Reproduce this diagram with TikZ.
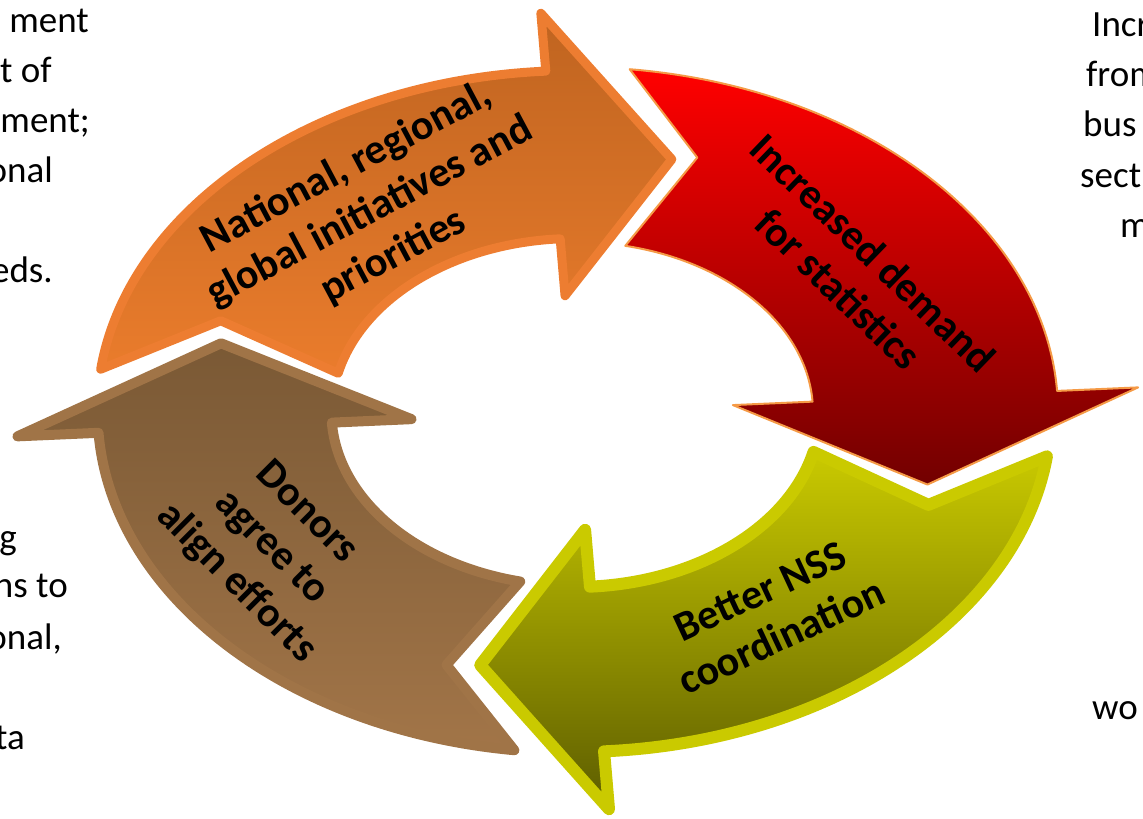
\documentclass[tikz,border=0pt]{standalone}
\usepackage{fontspec}
\setmainfont{Carlito}
\definecolor{orBorder}{HTML}{ED7D31}
\definecolor{orTop}{HTML}{BF6420}
\definecolor{orBot}{HTML}{EA7C2C}
\definecolor{rdBorder}{HTML}{F59A46}
\definecolor{rdTop}{HTML}{FF0000}
\definecolor{rdBot}{HTML}{720000}
\definecolor{ylBorder}{HTML}{CACA00}
\definecolor{ylTop}{HTML}{CACA00}
\definecolor{ylBot}{HTML}{5C5C00}
\definecolor{brBorder}{HTML}{A07447}
\definecolor{brTop}{HTML}{7A5935}
\definecolor{brBot}{HTML}{A27548}
\tikzset{
  arrowlabel/.style={font=\bfseries\fontsize{42}{50}\selectfont, align=center, text=black, inner sep=0pt},
  sidetext/.style={font=\fontsize{37}{50}\selectfont, inner sep=0pt, text=black},
  ringshape/.style={line join=round},
}
\newcommand{\ringarrow}[3]{%
  \pgfmathsetmacro\myPrev{#1+90}%
  \pgfmathsetmacro\myAo{\myPrev-9.8-0.2*#2}%
  \pgfmathsetmacro\myAi{\myPrev-15.5-0.2*#2}%
  \pgfmathsetmacro\myAn{\myPrev-22.2-0.25*#2}%
  \pgfmathsetmacro\myAt{#1-19.8+0.22*#2}%
  \pgfmathsetmacro\myRo{346-#2}%
  \pgfmathsetmacro\myRi{169+#2}%
  \pgfmathsetmacro\myRbo{404-#2}%
  \pgfmathsetmacro\myRbi{112+#2}%
  \draw[ringshape,#3] (\myAo:\myRo pt) arc[start angle=\myAo, end angle=#1, radius=\myRo pt]
    -- (#1:\myRbo pt) -- (\myAt:262pt) -- (#1:\myRbi pt) -- (#1:\myRi pt)
    arc[start angle=#1, end angle=\myAi, radius=\myRi pt] -- (\myAn:269pt) -- cycle;
}
\begin{document}
\begin{tikzpicture}[x=1pt,y=1pt]
\useasboundingbox (0,0) rectangle (1143,819);
\begin{scope}[shift={(575,407)}, xscale=1.4]
  \ringarrow{93.5}{4.5}{draw=orBorder, line width=9pt, top color=orTop, bottom color=orBot}
  \ringarrow{3.5}{1}{draw=rdBorder, line width=2pt, top color=rdTop, bottom color=rdBot}
  \ringarrow{-86.5}{6}{draw=ylBorder, line width=12pt, top color=ylTop, bottom color=ylBot}
  \ringarrow{-176.5}{5}{draw=brBorder, line width=10pt, top color=brTop, bottom color=brBot}
\end{scope}
\node[arrowlabel, rotate=28] (tNat) at (370,607) {National, regional,\\global initiatives and\\priorities};
\node[arrowlabel, rotate=-44] (tDem) at (856,548) {Increased demand\\for statistics};
\node[arrowlabel, rotate=25] (tNSS) at (771,205) {Better NSS\\coordination};
\node[arrowlabel, rotate=-45] (tDon) at (271,271) {Donors\\agree to\\align efforts};
\node[sidetext, anchor=base east] (l1) at (89,786) {ment};
\node[sidetext, anchor=base east] (l2) at (52,736) {t of};
\node[sidetext, anchor=base east] (l3) at (90,686) {ment;};
\node[sidetext, anchor=base east] (l4) at (53,636) {onal};
\node[sidetext, anchor=base east] (l5) at (53,536) {eds.};
\node[sidetext, anchor=base east] (b1) at (17,269) {g};
\node[sidetext, anchor=base east] (b2) at (68,221) {ns to};
\node[sidetext, anchor=base east] (b3) at (62,169) {onal,};
\node[sidetext, anchor=base east] (b4) at (25,69) {ta};
\node[sidetext, anchor=base west] (r1) at (1092,782) {Incr};
\node[sidetext, anchor=base west] (r2) at (1086,732) {from};
\node[sidetext, anchor=base west] (r3) at (1083,682) {bus};
\node[sidetext, anchor=base west] (r4) at (1080,631) {sect};
\node[sidetext, anchor=base west] (r5) at (1120,581) {m};
\node[sidetext, anchor=base west] (r6) at (1092,99) {wo};
\end{tikzpicture}
\end{document}
